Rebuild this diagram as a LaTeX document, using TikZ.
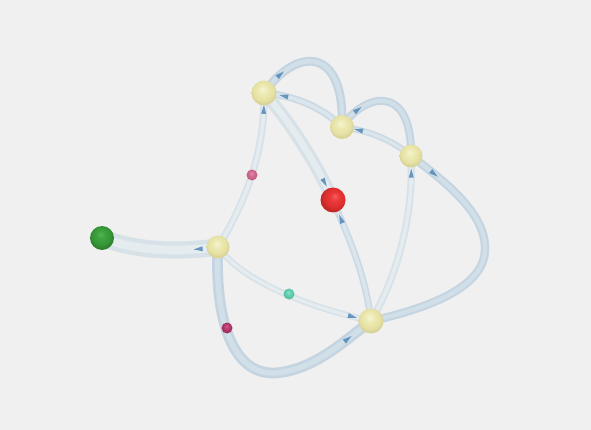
\documentclass[tikz,border=0pt]{standalone}
\usetikzlibrary{decorations.markings}
\pgfdeclarelayer{bg}
\pgfsetlayers{bg,main}
\definecolor{bgc}{RGB}{240,240,240}
\definecolor{blueE}{RGB}{196,212,225}
\definecolor{blueM}{RGB}{209,223,233}
\definecolor{whiteE}{RGB}{215,225,232}
\definecolor{whiteM}{RGB}{229,236,240}
\definecolor{midE}{RGB}{203,217,228}
\definecolor{midM}{RGB}{219,229,236}
\definecolor{conec}{RGB}{72,128,178}
\pgfdeclareradialshading{yball}{\pgfpoint{-3bp}{8bp}}{rgb(0bp)=(0.96,0.96,0.83); rgb(9bp)=(0.93,0.92,0.70); rgb(20bp)=(0.90,0.88,0.64); rgb(25bp)=(0.85,0.83,0.59); rgb(50bp)=(0.85,0.83,0.59)}
\pgfdeclareradialshading{rball}{\pgfpoint{4bp}{8bp}}{rgb(0bp)=(0.98,0.36,0.36); rgb(9bp)=(0.92,0.22,0.22); rgb(20bp)=(0.86,0.18,0.18); rgb(25bp)=(0.78,0.15,0.15); rgb(50bp)=(0.78,0.15,0.15)}
\pgfdeclareradialshading{gball}{\pgfpoint{-3bp}{8bp}}{rgb(0bp)=(0.33,0.70,0.33); rgb(9bp)=(0.24,0.64,0.24); rgb(20bp)=(0.21,0.58,0.21); rgb(25bp)=(0.18,0.50,0.18); rgb(50bp)=(0.18,0.50,0.18)}
\pgfdeclareradialshading{pball}{\pgfpoint{-3bp}{8bp}}{rgb(0bp)=(0.90,0.55,0.68); rgb(10bp)=(0.84,0.43,0.58); rgb(25bp)=(0.76,0.36,0.50); rgb(50bp)=(0.76,0.36,0.50)}
\pgfdeclareradialshading{tball}{\pgfpoint{-3bp}{8bp}}{rgb(0bp)=(0.55,0.90,0.78); rgb(10bp)=(0.40,0.83,0.70); rgb(25bp)=(0.33,0.74,0.62); rgb(50bp)=(0.33,0.74,0.62)}
\pgfdeclareradialshading{mball}{\pgfpoint{-3bp}{8bp}}{rgb(0bp)=(0.82,0.36,0.55); rgb(10bp)=(0.73,0.24,0.44); rgb(25bp)=(0.62,0.18,0.36); rgb(50bp)=(0.62,0.18,0.36)}
\tikzset{
  ball/.style={circle, minimum size=#1, inner sep=0pt},
  tube/.style n args={3}{draw=#1, double=#2, line width=#3, double distance=2*#3, line cap=round},
  cone/.style={postaction={decorate, decoration={markings, mark=at position #1 with {\fill[conec, opacity=0.8] (-4.5pt,-2.5pt) -- (4.5pt,0pt) -- (-4.5pt,2.5pt) -- cycle;}}}},
  coneb/.style={postaction={decorate, decoration={markings, mark=at position #1 with {\fill[conec, opacity=0.8] (4.5pt,-2.5pt) -- (-4.5pt,0pt) -- (4.5pt,2.5pt) -- cycle;}}}}
}
\begin{document}
\begin{tikzpicture}[x=1pt,y=-1pt]
\useasboundingbox (0,0) rectangle (591,430);
% nodes
\node[ball=25pt, shading=yball] (A) at (264,93) {};
\node[ball=24pt, shading=yball] (B) at (342,127) {};
\node[ball=23pt, shading=yball] (C) at (411,156) {};
\node[ball=23pt, shading=yball] (D) at (218,247) {};
\node[ball=25pt, shading=yball] (E) at (371,321) {};
\node[ball=25pt, shading=rball] (R) at (333,200) {};
\node[ball=24pt, shading=gball] (G) at (102,238) {};
\node[ball=11pt, shading=pball] (P) at (252,175) {};
\node[ball=11pt, shading=tball] (T) at (289,294) {};
\node[ball=11pt, shading=mball] (M) at (227,328) {};
\coordinate (cr) at (485,250);
\coordinate (cb) at (275,373);
\begin{pgfonlayer}{bg}
\fill[bgc] (0,0) rectangle (591,430);
% edges
\draw[tube={blueE}{blueM}{2.2pt}, cone=0.18] (A.center) .. controls (296,47) and (345,45) .. (B.center);
\draw[tube={midE}{midM}{1.8pt}, coneb=0.23] (A.center) .. controls (290,95) and (320,105) .. (B.center);
\draw[tube={blueE}{blueM}{2pt}, cone=0.2] (B.center) .. controls (362,95) and (412,80) .. (C.center);
\draw[tube={midE}{midM}{1.6pt}, coneb=0.22] (B.center) .. controls (365,130) and (390,138) .. (C.center);
\draw[tube={blueE}{blueM}{2.1pt}, cone=0.11] (C.center) .. controls (450,185) and (486,215) .. (cr) .. controls (484,290) and (420,310) .. (E.center);
\draw[tube={whiteE}{whiteM}{1.8pt}, coneb=0.1] (C.center) .. controls (414,220) and (395,280) .. (E.center);
\draw[tube={whiteE}{whiteM}{3.2pt}, cone=0.85] (A.center) .. controls (285,115) and (315,160) .. (R.center);
\draw[tube={midE}{midM}{1.7pt}, coneb=0.16] (R.center) .. controls (345,230) and (365,270) .. (E.center);
\draw[tube={whiteE}{whiteM}{1.8pt}, coneb=0.1] (A.center) .. controls (265,145) and (250,195) .. (D.center);
\draw[tube={whiteE}{whiteM}{4.3pt}, coneb=0.83] (G.center) .. controls (140,252) and (180,252) .. (D.center);
\draw[tube={whiteE}{whiteM}{1.6pt}, cone=0.89] (D.center) .. controls (245,285) and (320,310) .. (E.center);
\draw[tube={blueE}{blueM}{2.7pt}, cone=0.89] (D.center) .. controls (215,300) and (225,375) .. (cb) .. controls (315,370) and (345,340) .. (E.center);
\end{pgfonlayer}
\end{tikzpicture}
\end{document}
